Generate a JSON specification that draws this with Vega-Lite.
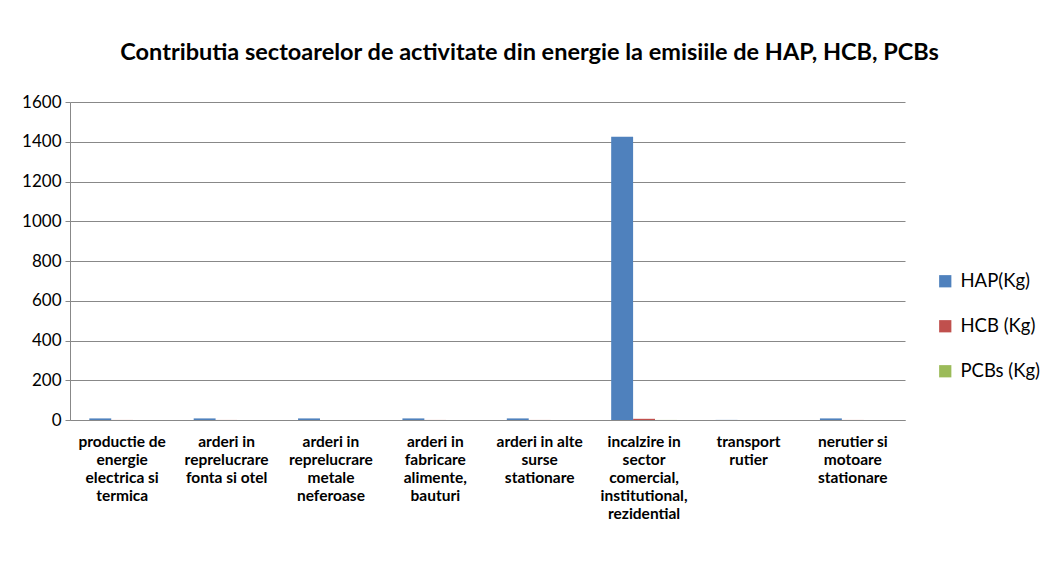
{
  "$schema": "https://vega.github.io/schema/vega-lite/v6.json",
  "width": 835,
  "height": 318,
  "padding": {"left": 21, "top": 40, "right": 5, "bottom": 5},
  "background": "white",
  "title": {
    "text": "Contributia sectoarelor de activitate din energie la emisiile de HAP, HCB, PCBs",
    "font": "Lato",
    "fontSize": 23.5,
    "fontWeight": "bold",
    "color": "#000000",
    "anchor": "middle",
    "dx": 42,
    "offset": 29
  },
  "data": {
    "values": [
      {"sector": "productie de|energie|electrica si|termica", "serie": "HAP(Kg)", "valoare": 8},
      {"sector": "productie de|energie|electrica si|termica", "serie": "HCB (Kg)", "valoare": 0.3},
      {"sector": "productie de|energie|electrica si|termica", "serie": "PCBs (Kg)", "valoare": 0.1},
      {"sector": "arderi in|reprelucrare|fonta si otel", "serie": "HAP(Kg)", "valoare": 8},
      {"sector": "arderi in|reprelucrare|fonta si otel", "serie": "HCB (Kg)", "valoare": 0.3},
      {"sector": "arderi in|reprelucrare|fonta si otel", "serie": "PCBs (Kg)", "valoare": 0.1},
      {"sector": "arderi in|reprelucrare|metale|neferoase", "serie": "HAP(Kg)", "valoare": 8},
      {"sector": "arderi in|reprelucrare|metale|neferoase", "serie": "HCB (Kg)", "valoare": 0.3},
      {"sector": "arderi in|reprelucrare|metale|neferoase", "serie": "PCBs (Kg)", "valoare": 0.1},
      {"sector": "arderi in|fabricare|alimente,|bauturi", "serie": "HAP(Kg)", "valoare": 8},
      {"sector": "arderi in|fabricare|alimente,|bauturi", "serie": "HCB (Kg)", "valoare": 0.3},
      {"sector": "arderi in|fabricare|alimente,|bauturi", "serie": "PCBs (Kg)", "valoare": 0.1},
      {"sector": "arderi in alte|surse|stationare", "serie": "HAP(Kg)", "valoare": 8},
      {"sector": "arderi in alte|surse|stationare", "serie": "HCB (Kg)", "valoare": 0.3},
      {"sector": "arderi in alte|surse|stationare", "serie": "PCBs (Kg)", "valoare": 0.1},
      {"sector": "incalzire in|sector|comercial,|institutional,|rezidential", "serie": "HAP(Kg)", "valoare": 1425},
      {"sector": "incalzire in|sector|comercial,|institutional,|rezidential", "serie": "HCB (Kg)", "valoare": 6},
      {"sector": "incalzire in|sector|comercial,|institutional,|rezidential", "serie": "PCBs (Kg)", "valoare": 0.3},
      {"sector": "transport|rutier", "serie": "HAP(Kg)", "valoare": 0.5},
      {"sector": "transport|rutier", "serie": "HCB (Kg)", "valoare": 0.1},
      {"sector": "transport|rutier", "serie": "PCBs (Kg)", "valoare": 0.1},
      {"sector": "nerutier si|motoare|stationare", "serie": "HAP(Kg)", "valoare": 8},
      {"sector": "nerutier si|motoare|stationare", "serie": "HCB (Kg)", "valoare": 0.3},
      {"sector": "nerutier si|motoare|stationare", "serie": "PCBs (Kg)", "valoare": 0.1}
    ]
  },
  "mark": {"type": "bar"},
  "encoding": {
    "x": {
      "field": "sector",
      "type": "nominal",
      "sort": null,
      "scale": {"paddingInner": 0.37, "paddingOuter": 0.185},
      "axis": {
        "title": null,
        "labelAngle": 0,
        "labelExpr": "split(datum.label, '|')",
        "labelFont": "Lato",
        "labelFontSize": 15.5,
        "labelFontWeight": "bold",
        "labelColor": "#000000",
        "labelLineHeight": 18,
        "labelPadding": 14,
        "labelLimit": 200,
        "labelOverlap": false,
        "domainColor": "#888888",
        "tickColor": "#888888",
        "ticks": false,
        "grid": false
      }
    },
    "xOffset": {"field": "serie", "type": "nominal", "sort": ["HAP(Kg)", "HCB (Kg)", "PCBs (Kg)"], "scale": {"paddingInner": 0}},
    "y": {
      "field": "valoare",
      "type": "quantitative",
      "scale": {"domain": [0, 1600], "nice": false},
      "axis": {
        "title": null,
        "format": "d",
        "values": [0, 200, 400, 600, 800, 1000, 1200, 1400, 1600],
        "labelFont": "Lato",
        "labelFontSize": 17,
        "labelColor": "#000000",
        "labelPadding": 4,
        "gridColor": "#888888",
        "gridWidth": 1,
        "domainColor": "#888888",
        "tickColor": "#888888",
        "tickSize": 5
      }
    },
    "color": {
      "field": "serie",
      "type": "nominal",
      "sort": ["HAP(Kg)", "HCB (Kg)", "PCBs (Kg)"],
      "scale": {"domain": ["HAP(Kg)", "HCB (Kg)", "PCBs (Kg)"], "range": ["#4F81BD", "#C0504D", "#9BBB59"]},
      "legend": {
        "title": null,
        "orient": "none",
        "legendX": 866,
        "legendY": 170,
        "symbolType": "square",
        "symbolSize": 150,
        "symbolStrokeWidth": 0,
        "labelFont": "Lato",
        "labelFontSize": 18.5,
        "labelColor": "#000000",
        "labelOffset": 6,
        "rowPadding": 26,
        "padding": 0
      }
    }
  },
  "config": {
    "view": {"stroke": null},
    "legend": {"direction": "vertical"}
  }
}
